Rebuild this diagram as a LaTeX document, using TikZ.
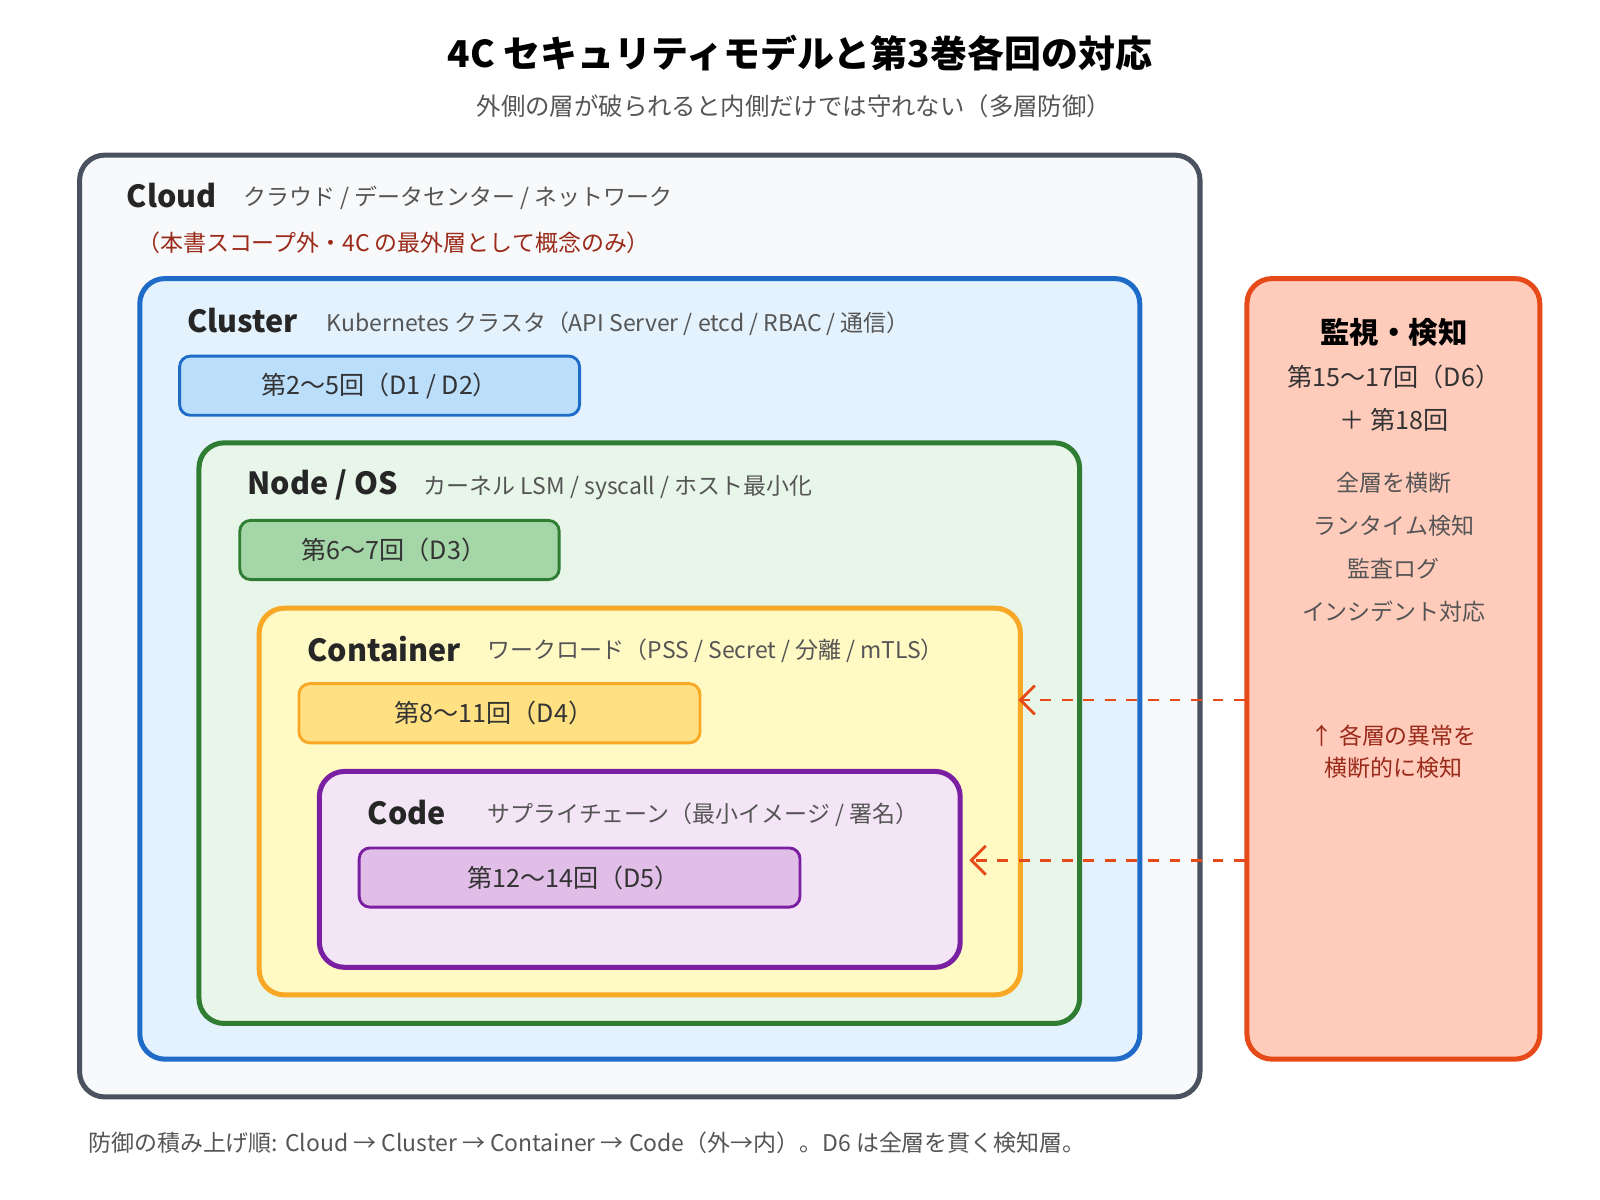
\documentclass[tikz,border=0pt]{standalone}
\usepackage{fontspec}
\setmainfont{Noto Sans CJK JP}
\usetikzlibrary{arrows.meta}
\definecolor{cloudC}{HTML}{4A5260}
\definecolor{cloudF}{HTML}{F8F9FA}
\definecolor{clusC}{HTML}{1E6BC8}
\definecolor{clusF}{HTML}{E3F2FD}
\definecolor{clusB}{HTML}{BBDEFB}
\definecolor{nodeC}{HTML}{2E7D32}
\definecolor{nodeF}{HTML}{E8F5E9}
\definecolor{nodeB}{HTML}{A5D6A7}
\definecolor{contC}{HTML}{F9A825}
\definecolor{contF}{HTML}{FFF9C4}
\definecolor{contB}{HTML}{FFE082}
\definecolor{codeC}{HTML}{7B1FA2}
\definecolor{codeF}{HTML}{F3E5F5}
\definecolor{codeB}{HTML}{E1BEE7}
\definecolor{monC}{HTML}{E64A19}
\definecolor{monF}{HTML}{FFCCBC}
\definecolor{txtG}{HTML}{555555}
\definecolor{noteR}{HTML}{9A2A1A}
\tikzset{
  layer/.style={line width=1.4pt, rounded corners=7pt},
  round/.style={line width=0.8pt, rounded corners=3pt},
  lbl/.style={anchor=west, font=\fontsize{8.5}{10}\selectfont\bfseries, text=black!85},
  desc/.style={anchor=west, font=\fontsize{6.4}{8}\selectfont, text=txtG},
  boxtxt/.style={font=\fontsize{7}{8}\selectfont, text=black!80},
  watch/.style={dashed, line width=0.8pt, draw=monC, -{Straight Barb[length=4pt]}}
}
\begin{document}
\begin{tikzpicture}[x=0.01cm,y=-0.01cm]
\useasboundingbox (0,0) rectangle (1568,1176);
% title
\node (title) at (784,52) {\fontsize{10.3}{12}\selectfont\bfseries 4C セキュリティモデルと第3巻各回の対応};
\node[text=txtG] (subtitle) at (778,104) {\fontsize{6.8}{8}\selectfont 外側の層が破られると内側だけでは守れない（多層防御）};

% layers
\draw[layer, draw=cloudC, fill=cloudF] (78,152) rectangle (1176,1075);
\node[lbl] (cloud) at (112,192) {Cloud};
\node[desc] (cloudd) at (226,194) {クラウド / データセンター / ネットワーク};
\node[desc, text=noteR] (cloudn) at (122,238) {（本書スコープ外・4C の最外層として概念のみ）};

\draw[layer, draw=clusC, fill=clusF] (137,273) rectangle (1117,1038);
\node[lbl] (cluster) at (171,314) {Cluster};
\node[desc] (clusterd) at (308,317) {Kubernetes クラスタ（API Server / etcd / RBAC / 通信）};
\draw[round, draw=clusC, fill=clusB] (176,349) rectangle (568,407);
\node[boxtxt] (clusterb) at (372,378) {第2〜5回（D1 / D2）};

\draw[layer, draw=nodeC, fill=nodeF] (195,434) rectangle (1058,1003);
\node[lbl] (nodeos) at (230,475) {Node / OS};
\node[desc] (nodeosd) at (403,478) {カーネル LSM / syscall / ホスト最小化};
\draw[round, draw=nodeC, fill=nodeB] (235,510) rectangle (548,568);
\node[boxtxt] (nodeosb) at (386,539) {第6〜7回（D3）};

\draw[layer, draw=contC, fill=contF] (254,596) rectangle (1000,975);
\node[lbl] (container) at (289,636) {Container};
\node[desc] (containerd) at (465,638) {ワークロード（PSS / Secret / 分離 / mTLS）};
\draw[round, draw=contC, fill=contB] (293,670) rectangle (686,728);
\node[boxtxt] (containerb) at (484,699) {第8〜11回（D4）};

\draw[layer, draw=codeC, fill=codeF] (313,756) rectangle (941,948);
\node[lbl] (code) at (348,796) {Code};
\node[desc] (coded) at (465,798) {サプライチェーン（最小イメージ / 署名）};
\draw[round, draw=codeC, fill=codeB] (352,831) rectangle (784,889);
\node[boxtxt] (codeb) at (562,860) {第12〜14回（D5）};

% monitoring
\draw[layer, draw=monC, fill=monF] (1222,273) rectangle (1509,1038);
\node (mon) at (1366,326) {\fontsize{8.2}{10}\selectfont\bfseries 監視・検知};
\node[boxtxt, align=center] (monr) at (1366,390) {第15〜17回（D6）\\[4pt]＋ 第18回};
\node[desc, anchor=center, align=center] (monl) at (1366,536) {全層を横断\\[4pt]ランタイム検知\\[4pt]監査ログ\\[4pt]インシデント対応};
\node[desc, anchor=center, align=center, text=noteR] (monn) at (1366,737) {↑ 各層の異常を\\[1pt]横断的に検知};

\coordinate (contE) at (998,686);
\coordinate (codeE) at (950,843);
\coordinate (monA) at (1220,686);
\coordinate (monB) at (1220,843);
\draw[watch] (monA) -- (contE);
\draw[watch] (monB) -- (codeE);

% footer
\node[desc] (footer) at (74,1120) {防御の積み上げ順: Cloud → Cluster → Container → Code（外→内）。D6 は全層を貫く検知層。};
\end{tikzpicture}
\end{document}
